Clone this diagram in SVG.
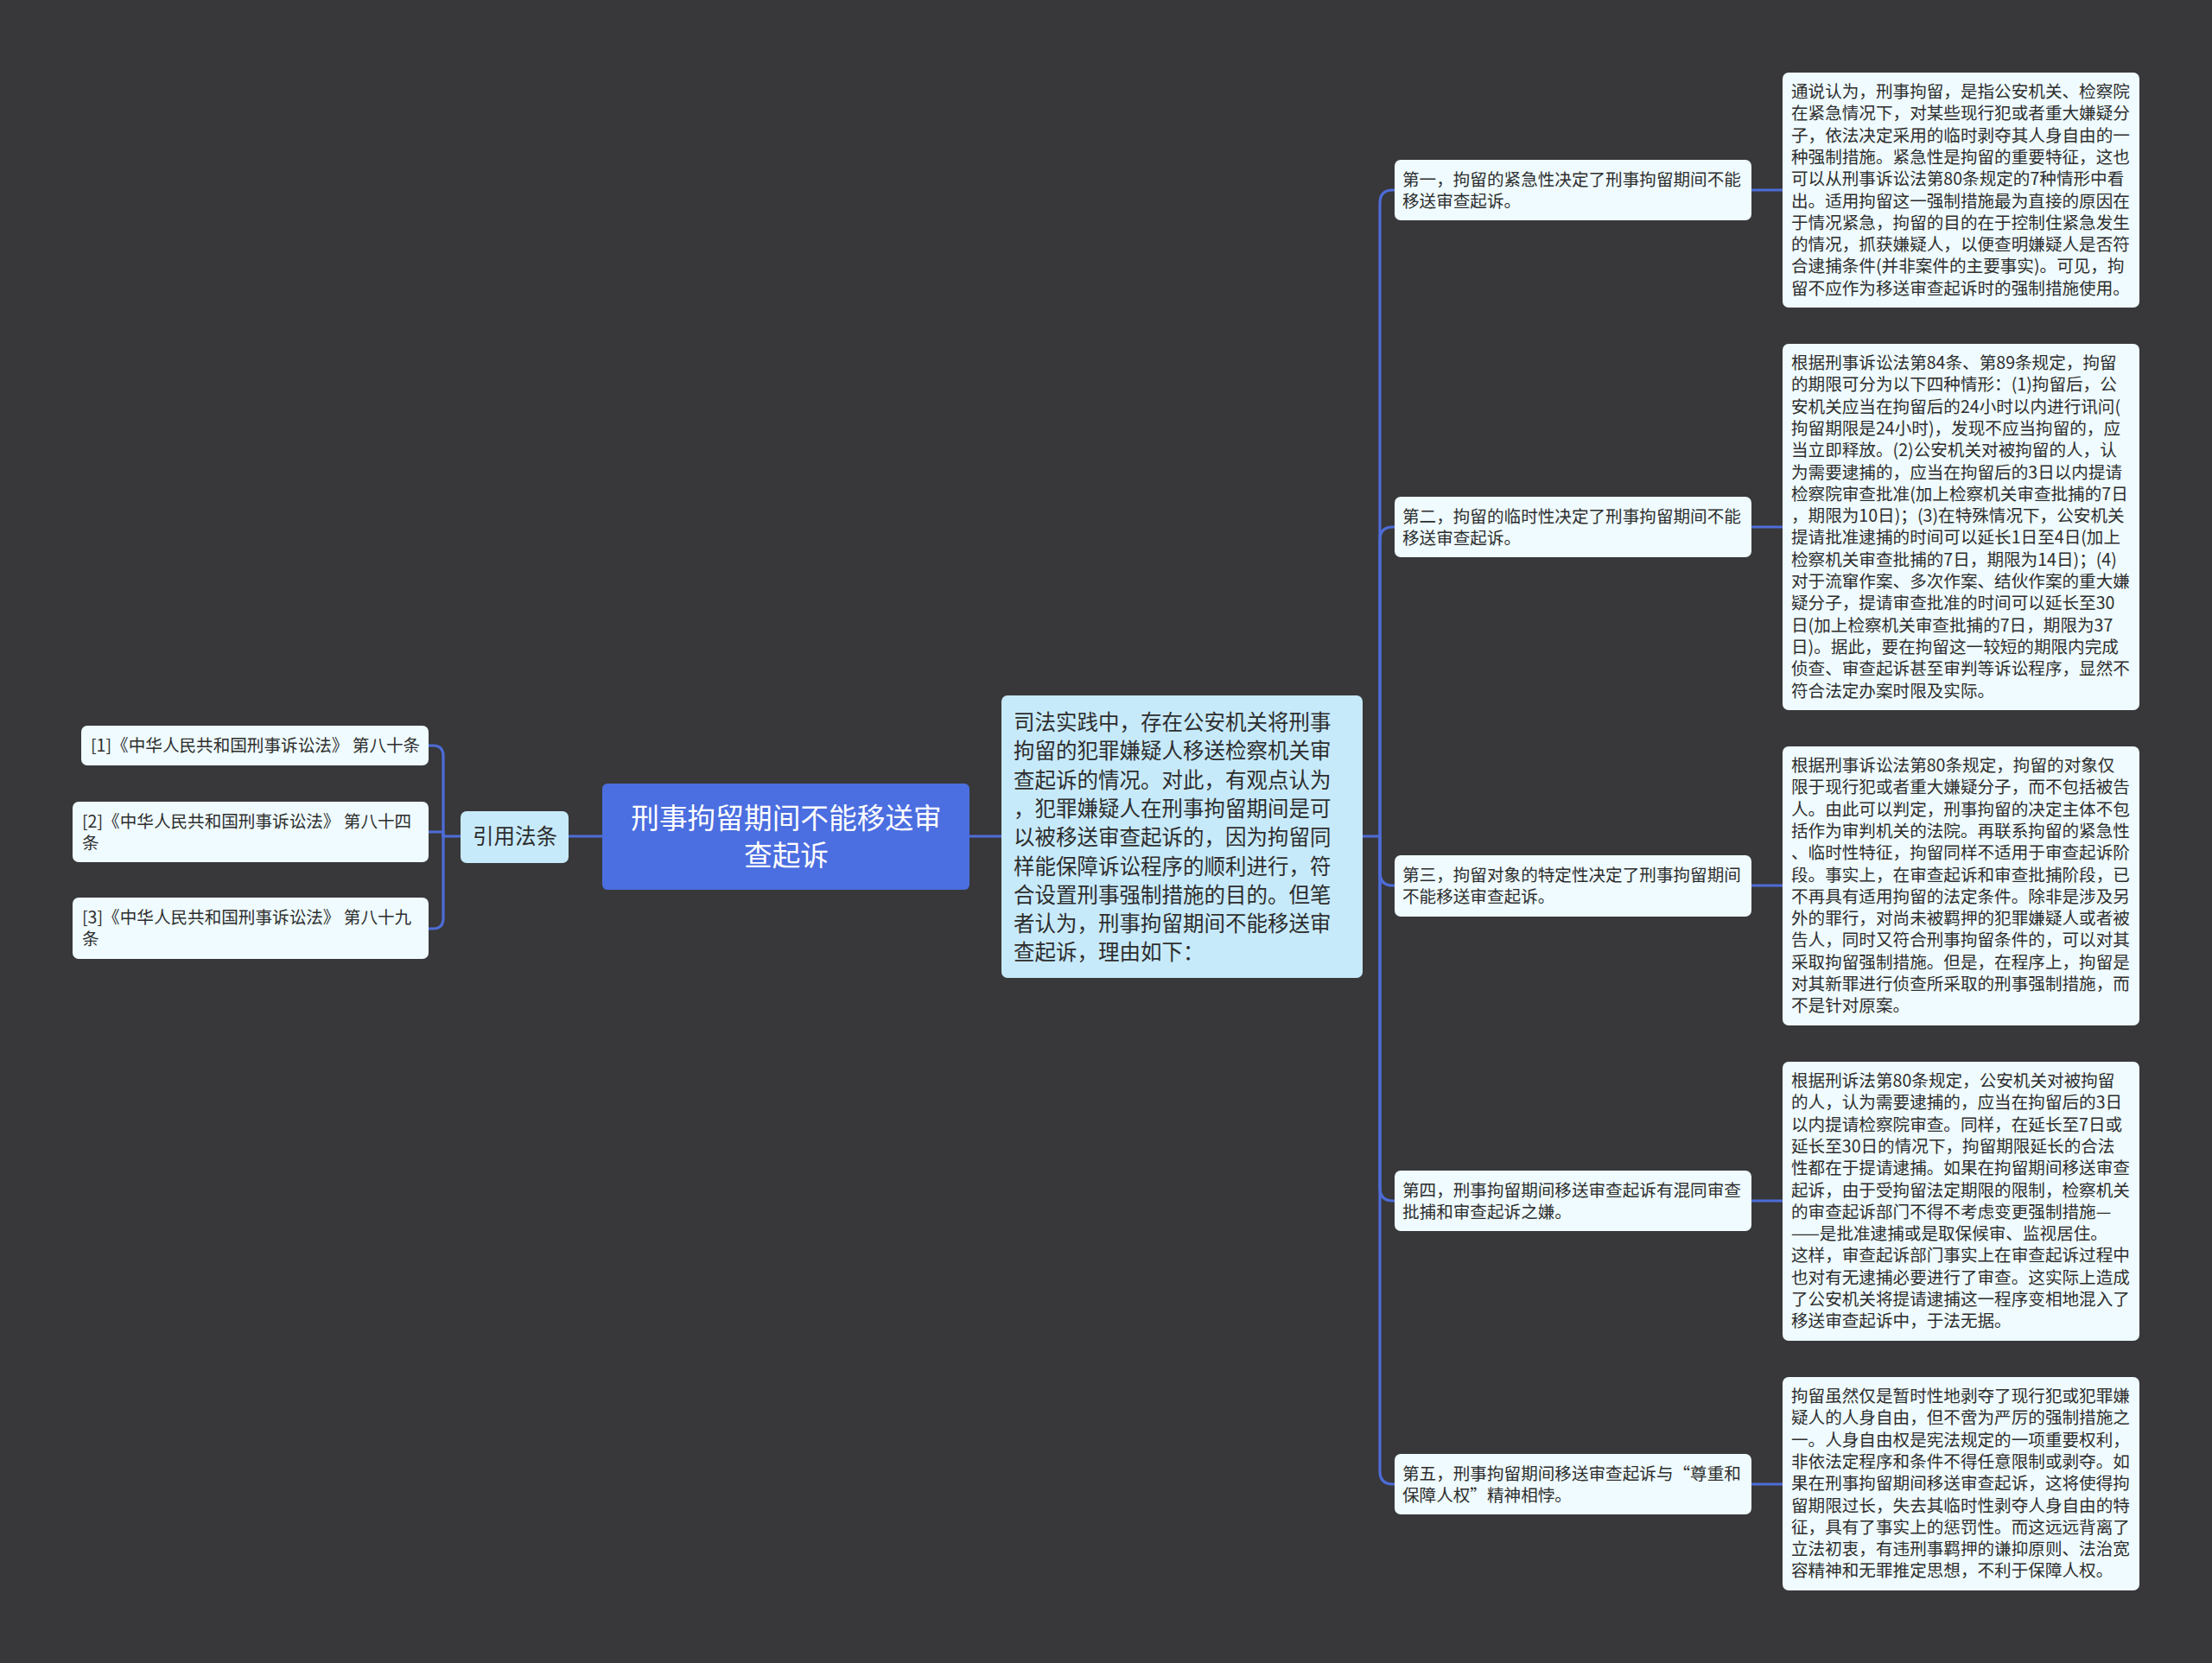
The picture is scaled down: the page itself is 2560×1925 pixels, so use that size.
<svg xmlns="http://www.w3.org/2000/svg" width="2560" height="1925" viewBox="0 0 2560 1925">
<style>
.bg{fill:#38383a}
.c{fill:none;stroke:#4d6cd8;stroke-width:3.2;stroke-linecap:round}
.leaf{fill:#effbfe}
.intro{fill:#c7eafb}
.root{fill:#4b6ee0}
.t{font-family:"Noto Sans CJK SC","Noto Sans",sans-serif;fill:#2e2e2e}
.s{font-size:19.6px}
.m{font-size:24.5px}
.r{font-size:32.7px;fill:#ffffff}
</style>
<rect class="bg" x="0" y="0" width="2560" height="1925"/>
<g id="connectors">
<path class="c" d="M1122,968 H1159"/>
<path class="c" d="M697,968 H658"/>
<path class="c" d="M1577,968 H1597"/>
<path class="c" d="M1597,968 V235 Q1597,220 1612,220 H1614"/>
<path class="c" d="M1597,968 V625 Q1597,610 1612,610 H1614"/>
<path class="c" d="M1597,968 V1010 Q1597,1025 1612,1025 H1614"/>
<path class="c" d="M1597,968 V1375 Q1597,1390 1612,1390 H1614"/>
<path class="c" d="M1597,968 V1703 Q1597,1718 1612,1718 H1614"/>
<path class="c" d="M2027,220 H2063"/>
<path class="c" d="M2027,610 H2063"/>
<path class="c" d="M2027,1025 H2063"/>
<path class="c" d="M2027,1390 H2063"/>
<path class="c" d="M2027,1718 H2063"/>
<path class="c" d="M533,968 H513"/>
<path class="c" d="M513,968 V875 Q513,863 501,863 H496"/>
<path class="c" d="M513,968 V963 H496"/>
<path class="c" d="M513,968 V1063 Q513,1075 501,1075 H496"/>
</g>
<g id="root">
<rect class="root" x="697" y="907" width="425" height="123" rx="6"/>
<text class="t r" text-anchor="middle"><tspan x="910" y="959">刑事拘留期间不能移送审</tspan><tspan x="910" y="1002">查起诉</tspan></text>
</g>
<g id="cite">
<rect class="intro" x="533" y="939" width="125" height="60" rx="7"/>
<text class="t m" x="596" y="977" text-anchor="middle">引用法条</text>
</g>
<g id="cite1">
<rect class="leaf" x="94" y="840" width="402" height="46" rx="7"/>
<text class="t s" x="105" y="870">[1]《中华人民共和国刑事诉讼法》 第八十条</text>
</g>
<g id="cite2">
<rect class="leaf" x="84" y="928" width="412" height="70" rx="7"/>
<text class="t s"><tspan x="95" y="958">[2]《中华人民共和国刑事诉讼法》 第八十四</tspan><tspan x="95" y="983">条</tspan></text>
</g>
<g id="cite3">
<rect class="leaf" x="84" y="1039" width="412" height="71" rx="7"/>
<text class="t s"><tspan x="95" y="1069">[3]《中华人民共和国刑事诉讼法》 第八十九</tspan><tspan x="95" y="1094">条</tspan></text>
</g>
<g id="intro">
<rect class="intro" x="1159" y="805" width="418" height="327" rx="7"/>
<text class="t m">
<tspan x="1173" y="845">司法实践中，存在公安机关将刑事</tspan>
<tspan x="1173" y="878.3">拘留的犯罪嫌疑人移送检察机关审</tspan>
<tspan x="1173" y="911.6">查起诉的情况。对此，有观点认为</tspan>
<tspan x="1173" y="944.9">，犯罪嫌疑人在刑事拘留期间是可</tspan>
<tspan x="1173" y="978.2">以被移送审查起诉的，因为拘留同</tspan>
<tspan x="1173" y="1011.5">样能保障诉讼程序的顺利进行，符</tspan>
<tspan x="1173" y="1044.8">合设置刑事强制措施的目的。但笔</tspan>
<tspan x="1173" y="1078.1">者认为，刑事拘留期间不能移送审</tspan>
<tspan x="1173" y="1111.4">查起诉，理由如下：</tspan>
</text>
</g>
<g id="p1">
<rect class="leaf" x="1614" y="185" width="413" height="70" rx="7"/>
<text class="t s"><tspan x="1623" y="215">第一，拘留的紧急性决定了刑事拘留期间不能</tspan><tspan x="1623" y="240">移送审查起诉。</tspan></text>
</g>
<g id="p2">
<rect class="leaf" x="1614" y="575" width="413" height="70" rx="7"/>
<text class="t s"><tspan x="1623" y="605">第二，拘留的临时性决定了刑事拘留期间不能</tspan><tspan x="1623" y="630">移送审查起诉。</tspan></text>
</g>
<g id="p3">
<rect class="leaf" x="1614" y="990" width="413" height="71" rx="7"/>
<text class="t s"><tspan x="1623" y="1020">第三，拘留对象的特定性决定了刑事拘留期间</tspan><tspan x="1623" y="1045">不能移送审查起诉。</tspan></text>
</g>
<g id="p4">
<rect class="leaf" x="1614" y="1355" width="413" height="70" rx="7"/>
<text class="t s"><tspan x="1623" y="1385">第四，刑事拘留期间移送审查起诉有混同审查</tspan><tspan x="1623" y="1410">批捕和审查起诉之嫌。</tspan></text>
</g>
<g id="p5">
<rect class="leaf" x="1614" y="1683" width="413" height="70" rx="7"/>
<text class="t s"><tspan x="1623" y="1713">第五，刑事拘留期间移送审查起诉与“尊重和</tspan><tspan x="1623" y="1738">保障人权”精神相悖。</tspan></text>
</g>
<g id="d1">
<rect class="leaf" x="2063" y="84" width="413" height="272" rx="7"/>
<text class="t s">
<tspan x="2073" y="113">通说认为，刑事拘留，是指公安机关、检察院</tspan>
<tspan x="2073" y="138.3">在紧急情况下，对某些现行犯或者重大嫌疑分</tspan>
<tspan x="2073" y="163.6">子，依法决定采用的临时剥夺其人身自由的一</tspan>
<tspan x="2073" y="188.9">种强制措施。紧急性是拘留的重要特征，这也</tspan>
<tspan x="2073" y="214.2">可以从刑事诉讼法第80条规定的7种情形中看</tspan>
<tspan x="2073" y="239.5">出。适用拘留这一强制措施最为直接的原因在</tspan>
<tspan x="2073" y="264.8">于情况紧急，拘留的目的在于控制住紧急发生</tspan>
<tspan x="2073" y="290.1">的情况，抓获嫌疑人，以便查明嫌疑人是否符</tspan>
<tspan x="2073" y="315.4">合逮捕条件(并非案件的主要事实)。可见，拘</tspan>
<tspan x="2073" y="340.7">留不应作为移送审查起诉时的强制措施使用。</tspan>
</text>
</g>
<g id="d2">
<rect class="leaf" x="2063" y="398" width="413" height="424" rx="7"/>
<text class="t s">
<tspan x="2073" y="427">根据刑事诉讼法第84条、第89条规定，拘留</tspan>
<tspan x="2073" y="452.3">的期限可分为以下四种情形：(1)拘留后，公</tspan>
<tspan x="2073" y="477.6">安机关应当在拘留后的24小时以内进行讯问(</tspan>
<tspan x="2073" y="502.9">拘留期限是24小时)，发现不应当拘留的，应</tspan>
<tspan x="2073" y="528.2">当立即释放。(2)公安机关对被拘留的人，认</tspan>
<tspan x="2073" y="553.5">为需要逮捕的，应当在拘留后的3日以内提请</tspan>
<tspan x="2073" y="578.8">检察院审查批准(加上检察机关审查批捕的7日</tspan>
<tspan x="2073" y="604.1">，期限为10日)；(3)在特殊情况下，公安机关</tspan>
<tspan x="2073" y="629.4">提请批准逮捕的时间可以延长1日至4日(加上</tspan>
<tspan x="2073" y="654.7">检察机关审查批捕的7日，期限为14日)；(4)</tspan>
<tspan x="2073" y="680">对于流窜作案、多次作案、结伙作案的重大嫌</tspan>
<tspan x="2073" y="705.3">疑分子，提请审查批准的时间可以延长至30</tspan>
<tspan x="2073" y="730.6">日(加上检察机关审查批捕的7日，期限为37</tspan>
<tspan x="2073" y="755.9">日)。据此，要在拘留这一较短的期限内完成</tspan>
<tspan x="2073" y="781.2">侦查、审查起诉甚至审判等诉讼程序，显然不</tspan>
<tspan x="2073" y="806.5">符合法定办案时限及实际。</tspan>
</text>
</g>
<g id="d3">
<rect class="leaf" x="2063" y="864" width="413" height="323" rx="7"/>
<text class="t s">
<tspan x="2073" y="893">根据刑事诉讼法第80条规定，拘留的对象仅</tspan>
<tspan x="2073" y="918.3">限于现行犯或者重大嫌疑分子，而不包括被告</tspan>
<tspan x="2073" y="943.6">人。由此可以判定，刑事拘留的决定主体不包</tspan>
<tspan x="2073" y="968.9">括作为审判机关的法院。再联系拘留的紧急性</tspan>
<tspan x="2073" y="994.2">、临时性特征，拘留同样不适用于审查起诉阶</tspan>
<tspan x="2073" y="1019.5">段。事实上，在审查起诉和审查批捕阶段，已</tspan>
<tspan x="2073" y="1044.8">不再具有适用拘留的法定条件。除非是涉及另</tspan>
<tspan x="2073" y="1070.1">外的罪行，对尚未被羁押的犯罪嫌疑人或者被</tspan>
<tspan x="2073" y="1095.4">告人，同时又符合刑事拘留条件的，可以对其</tspan>
<tspan x="2073" y="1120.7">采取拘留强制措施。但是，在程序上，拘留是</tspan>
<tspan x="2073" y="1146">对其新罪进行侦查所采取的刑事强制措施，而</tspan>
<tspan x="2073" y="1171.3">不是针对原案。</tspan>
</text>
</g>
<g id="d4">
<rect class="leaf" x="2063" y="1229" width="413" height="323" rx="7"/>
<text class="t s">
<tspan x="2073" y="1258">根据刑诉法第80条规定，公安机关对被拘留</tspan>
<tspan x="2073" y="1283.3">的人，认为需要逮捕的，应当在拘留后的3日</tspan>
<tspan x="2073" y="1308.6">以内提请检察院审查。同样，在延长至7日或</tspan>
<tspan x="2073" y="1333.9">延长至30日的情况下，拘留期限延长的合法</tspan>
<tspan x="2073" y="1359.2">性都在于提请逮捕。如果在拘留期间移送审查</tspan>
<tspan x="2073" y="1384.5">起诉，由于受拘留法定期限的限制，检察机关</tspan>
<tspan x="2073" y="1409.8">的审查起诉部门不得不考虑变更强制措施—</tspan>
<tspan x="2073" y="1435.1">——是批准逮捕或是取保候审、监视居住。</tspan>
<tspan x="2073" y="1460.4">这样，审查起诉部门事实上在审查起诉过程中</tspan>
<tspan x="2073" y="1485.7">也对有无逮捕必要进行了审查。这实际上造成</tspan>
<tspan x="2073" y="1511">了公安机关将提请逮捕这一程序变相地混入了</tspan>
<tspan x="2073" y="1536.3">移送审查起诉中，于法无据。</tspan>
</text>
</g>
<g id="d5">
<rect class="leaf" x="2063" y="1594" width="413" height="247" rx="7"/>
<text class="t s">
<tspan x="2073" y="1623">拘留虽然仅是暂时性地剥夺了现行犯或犯罪嫌</tspan>
<tspan x="2073" y="1648.3">疑人的人身自由，但不啻为严厉的强制措施之</tspan>
<tspan x="2073" y="1673.6">一。人身自由权是宪法规定的一项重要权利，</tspan>
<tspan x="2073" y="1698.9">非依法定程序和条件不得任意限制或剥夺。如</tspan>
<tspan x="2073" y="1724.2">果在刑事拘留期间移送审查起诉，这将使得拘</tspan>
<tspan x="2073" y="1749.5">留期限过长，失去其临时性剥夺人身自由的特</tspan>
<tspan x="2073" y="1774.8">征，具有了事实上的惩罚性。而这远远背离了</tspan>
<tspan x="2073" y="1800.1">立法初衷，有违刑事羁押的谦抑原则、法治宽</tspan>
<tspan x="2073" y="1825.4">容精神和无罪推定思想，不利于保障人权。</tspan>
</text>
</g>
</svg>
